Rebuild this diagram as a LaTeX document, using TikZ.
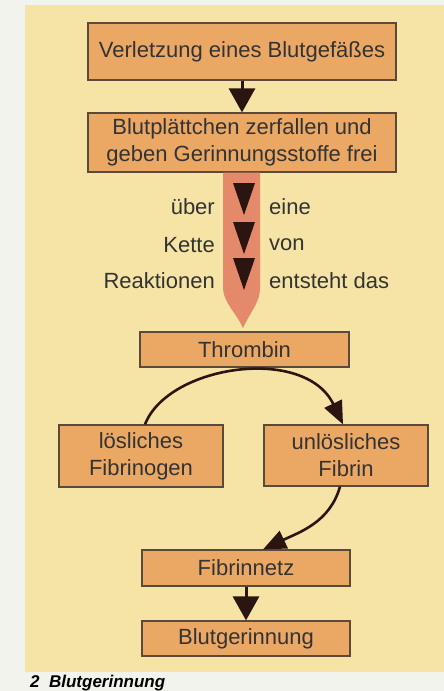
\documentclass[tikz,border=0pt]{standalone}
\usepackage{fontspec}
\setmainfont{Liberation Sans}
\usetikzlibrary{arrows.meta}
\definecolor{paper}{HTML}{F1F3EC}
\definecolor{panel}{HTML}{F6E3A6}
\definecolor{boxfill}{HTML}{EBA865}
\definecolor{boxline}{HTML}{5A4A3C}
\definecolor{salmon}{HTML}{E4896A}
\definecolor{darktri}{HTML}{2B1510}
\definecolor{txt}{HTML}{333333}
\begin{document}
\begin{tikzpicture}[x=1pt,y=-1pt,
  stepbox/.style={draw=boxline,line width=1.2pt,fill=boxfill,text=txt,align=center,inner sep=0pt,
     font=\fontsize{22}{27}\selectfont},
  lbl/.style={text=txt,inner sep=0pt,font=\fontsize{22}{27}\selectfont},
  flow/.style={line width=3pt,draw=darktri,-{Triangle[width=26pt,length=24pt]}},
  curv/.style={line width=2.6pt,draw=darktri,-{Triangle[width=19pt,length=23pt]}}]
\useasboundingbox (0,0) rectangle (444,691);
\fill[paper] (0,0) rectangle (444,691);
\fill[panel] (25,5) rectangle (444,672);

\node[stepbox,minimum width=308pt,minimum height=57pt] (b1) at (242,51.5) {Verletzung eines Blutgefäßes};
\node[stepbox,minimum width=308pt,minimum height=59pt] (b2) at (242,142.5) {Blutplättchen zerfallen und\\geben Gerinnungsstoffe frei};

\draw[flow] (b1.south) -- (b2.north);

% big salmon arrow
\fill[salmon] ([xshift=-19pt]b2.south) -- ([xshift=18pt]b2.south) -- ++(0,116)
   .. controls ++(0,14) and ++(6,-14) .. (243,328)
   .. controls ++(-6,-14) and ++(0,14) .. (223,288) -- cycle;
\foreach \yy in {183,222,258}{
  \fill[darktri] (233,\yy) -- (255,\yy) -- (244,\yy+32) -- cycle;
}
\node[lbl,anchor=east] (l1) at (215,207) {über};
\node[lbl,anchor=east] (l2) at (215,245) {Kette};
\node[lbl,anchor=east] (l3) at (215,281) {Reaktionen};
\node[lbl,anchor=west] (r1) at (269,207) {eine};
\node[lbl,anchor=west] (r2) at (269,245) {von};
\node[lbl,anchor=west] (r3) at (269,281) {entsteht das};

\node[stepbox,minimum width=209pt,minimum height=35pt] (thr) at (244.5,349.5) {Thrombin};
\node[stepbox,minimum width=164pt,minimum height=62pt] (fgen) at (141,456) {lösliches\\Fibrinogen};
\node[stepbox,minimum width=164pt,minimum height=61pt] (fbr) at (346,455.5) {unlösliches\\Fibrin};
\node[stepbox,minimum width=208pt,minimum height=36pt] (net) at (246,568) {Fibrinnetz};
\node[stepbox,minimum width=208pt,minimum height=35pt] (ger) at (246,638.5) {Blutgerinnung};

\draw[curv] ([xshift=4pt]fgen.north) .. controls (168,365) and (305,345) .. ([xshift=-3pt]fbr.north);
\draw[curv] ([xshift=-6pt]fbr.south) .. controls (330,522) and (300,532) .. ([xshift=17pt]net.north);
\draw[flow] (net.south) -- (ger.north);

\node[anchor=base west,inner sep=0pt,text=black,font=\fontsize{17}{20}\selectfont\bfseries\itshape] (cap) at (30,687) {2\ \ Blutgerinnung};
\end{tikzpicture}
\end{document}
